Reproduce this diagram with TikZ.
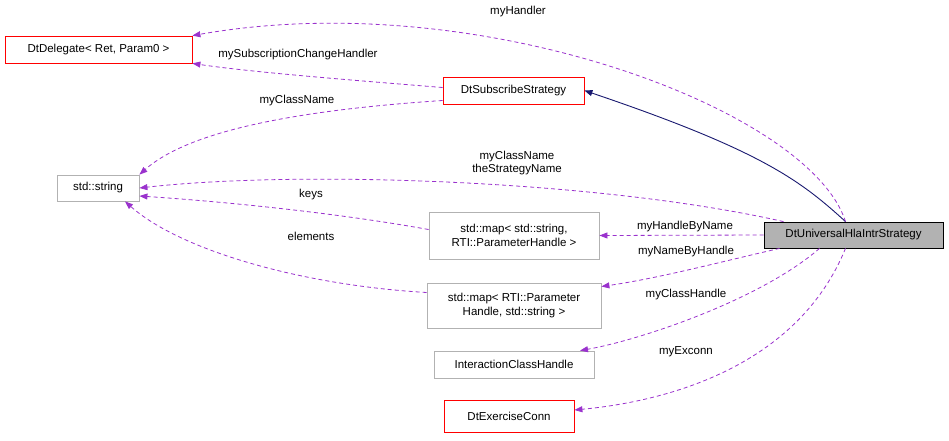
\documentclass[tikz,border=0pt]{standalone}
\usepackage{fontspec}
\setmainfont{Liberation Sans}
\usetikzlibrary{arrows.meta,calc}
\definecolor{edgep}{HTML}{9A32CD}
\definecolor{navy}{HTML}{191970}
\begin{document}
\begin{tikzpicture}[x=1pt,y=-1pt,
  font=\fontsize{11.5}{13.5}\selectfont,
  box/.style={draw=#1,fill=white,inner sep=0pt,align=center,line width=0.8pt},
  dep/.style={edgep,dashed,dash pattern=on 4pt off 3pt,line width=0.8pt,-{Triangle[length=8pt,width=6pt]}},
  inh/.style={navy,line width=0.9pt,-{Triangle[length=8pt,width=6pt]}},
  lbl/.style={inner sep=1pt,align=center}]
\useasboundingbox (0,0) rectangle (949,440);
\node[box=red,minimum width=187,minimum height=27] (del) at (98.5,49.5) {DtDelegate< Ret, Param0 >};
\node[box=red,minimum width=141,minimum height=27] (sub) at (513.5,90.5) {DtSubscribeStrategy};
\node[box=gray!60,minimum width=82,minimum height=26] (str) at (98,188) {std::string};
\node[box=gray!60,minimum width=170,minimum height=47] (m1) at (514,235.5) {std::map< std::string,\\RTI::ParameterHandle >};
\node[box=gray!60,minimum width=174,minimum height=45] (m2) at (514,305.5) {std::map< RTI::Parameter\\Handle, std::string >};
\node[box=gray!60,minimum width=160,minimum height=27] (ich) at (514,364.5) {InteractionClassHandle};
\node[box=red,minimum width=130,minimum height=32] (ex) at (509,416) {DtExerciseConn};
\node[box=black,fill=gray!60,minimum width=179,minimum height=26] (un) at (853.5,235) {DtUniversalHlaIntrStrategy};

\draw[inh] ([xshift=-8]un.north) .. controls (800,180) and (760,150) .. (sub.east);
\draw[dep] ([xshift=-8]un.north) .. controls (810,110) and (480,-15) .. (del.north east);
\draw[dep] ([yshift=3]sub.west) .. controls (350,80) and (250,72) .. (del.south east);
\draw[dep] ([yshift=-10]sub.west) .. controls (300,110) and (190,130) .. (str.north east);
\draw[dep] ([xshift=-70]un.north) .. controls (600,180) and (300,170) .. (str.east);
\draw[dep] ([yshift=6]m1.west) .. controls (320,210) and (200,200) .. ([yshift=-8]str.east);
\draw[dep] ([yshift=13]m2.west) .. controls (300,285) and (180,250) .. ([xshift=27]str.south);
\draw[dep] (un.west) -- (m1.east);
\draw[dep] ([xshift=16]un.south west) .. controls (720,262) and (660,278) .. ([yshift=19]m2.east);
\draw[dep] ([xshift=-34]un.south) .. controls (760,300) and (640,340) .. ([xshift=66]ich.north);
\draw[dep] ([xshift=-8]un.south) .. controls (800,360) and (680,400) .. ([yshift=6]ex.east);

\node[lbl] at (518,12) {myHandler};
\node[lbl] at (298,55) {mySubscriptionChangeHandler};
\node[lbl] at (297,101) {myClassName};
\node[lbl] at (517,163) {myClassName\\theStrategyName};
\node[lbl] at (311,195) {keys};
\node[lbl] at (311,236) {elements};
\node[lbl] at (685,227) {myHandleByName};
\node[lbl] at (686,252) {myNameByHandle};
\node[lbl] at (686,295) {myClassHandle};
\node[lbl] at (686,352) {myExconn};
\end{tikzpicture}
\end{document}
